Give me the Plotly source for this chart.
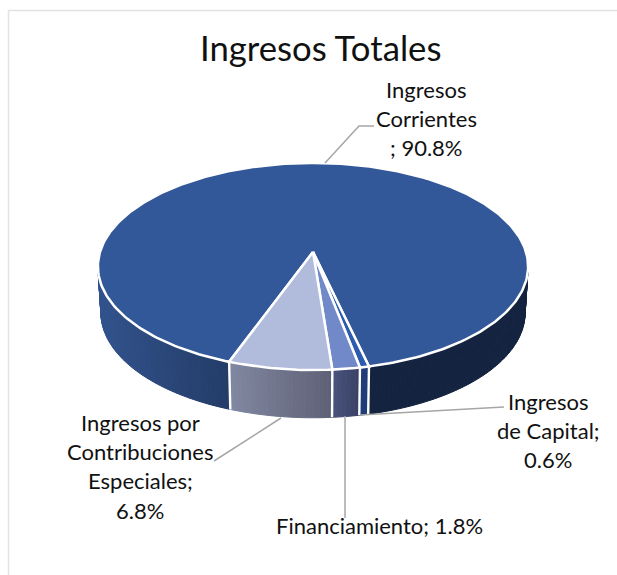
import math
import plotly.graph_objects as go

# ---- data ----
categories = ["Ingresos Corrientes", "Ingresos de Capital", "Financiamiento", "Ingresos por Contribuciones Especiales"]
shares = [90.8, 0.6, 1.8, 6.8]
label_lines = [
    ["Ingresos", "Corrientes", "; {v}%"],
    ["Ingresos", "de Capital;", "{v}%"],
    ["Financiamiento; {v}%"],
    ["Ingresos por", "Contribuciones", "Especiales;", "{v}%"],
]
title = "Ingresos Totales"

# ---- styles ----
top_colors = ["#335899", "#2C5BB0", "#7189C8", "#B1BBDC"]
side_colors = [((49, 82, 140), (20, 35, 63)), ((31, 60, 120), (31, 60, 120)),
               ((72, 82, 124), (56, 64, 98)), ((128, 135, 160), (94, 96, 118))]
side_span = [(100, 370), (360, 370), (333, 362), (231, 332)]
first_angle = 200.0
label_pos = [(426, [89, 118, 147]), (548, [401, 430, 459]), (379, [525]), (140, [422, 451, 480, 510])]
leaders = [[(325, 163), (359, 126), (374, 126)],
           [(360, 415), (504, 407)],
           [(345, 416), (345, 518)],
           [(281, 418), (214, 461)]]
FONT = "Lato"
CX, K = 313.0, 0.14


def proj(deg, a, y0, b):
    t = math.radians(deg)
    u, v = math.sin(t), -math.cos(t)
    w = 1 - K * v
    return CX + a * u / w, y0 + b * v / w


def top(deg):
    return proj(deg, 213, 252, 101.5)


def bot(deg):
    return proj(deg, 210, 298, 103)


fig = go.Figure()

# slice limits, clockwise from first_angle
bounds = [first_angle]
for s in shares:
    bounds.append(bounds[-1] + s / sum(shares) * 360)


def mix(pair, x, span):
    t = min(1, max(0, (x - span[0]) / (span[1] - span[0])))
    return "rgb(%d,%d,%d)" % tuple(round(pair[0][i] + (pair[1][i] - pair[0][i]) * t) for i in range(3))


def add_poly(xs, ys, fill, line="rgba(0,0,0,0)", width=0, close=True):
    fig.add_trace(go.Scatter(x=xs, y=ys, mode="lines", fill="toself" if close else "none",
                             fillcolor=fill, line=dict(color=line, width=width),
                             hoverinfo="skip", showlegend=False))


# side wall: thin strips following each slice, visible front part only
for i in range(len(shares)):
    a0, a1 = bounds[i], bounds[i + 1]
    steps = max(3, int((a1 - a0) / 1.0))
    for j in range(steps):
        p = a0 + (a1 - a0) * j / steps
        q = a0 + (a1 - a0) * (j + 1) / steps
        m = (p + q) / 2
        if math.cos(math.radians(m)) > -K:   # back half: hidden
            continue
        (x1, y1), (x2, y2) = top(p), top(q)
        (x3, y3), (x4, y4) = bot(q), bot(p)
        c = mix(side_colors[i], (x1 + x2) / 2, side_span[i])
        add_poly([x1, x2, x3, x4, x1], [y1, y2, y3, y4, y1], c, c, 1)

# white edges between wall sections
for b in bounds[1:]:
    (x1, y1), (x2, y2) = top(b), bot(b)
    fig.add_trace(go.Scatter(x=[x1, x2], y=[y1, y2], mode="lines", line=dict(color="white", width=2.4),
                             hoverinfo="skip", showlegend=False))

# top faces
for i in range(len(shares)):
    a0, a1 = bounds[i], bounds[i + 1]
    n = max(4, int(a1 - a0))
    pts = [top(a0 + (a1 - a0) * j / n) for j in range(n + 1)]
    apex = (CX, 252.0)
    xs = [apex[0]] + [p[0] for p in pts] + [apex[0]]
    ys = [apex[1]] + [p[1] for p in pts] + [apex[1]]
    add_poly(xs, ys, top_colors[i], "white", 2.5)

# leader lines
for ln in leaders:
    fig.add_trace(go.Scatter(x=[p[0] for p in ln], y=[p[1] for p in ln], mode="lines",
                             line=dict(color="#A6A6A6", width=1.5), hoverinfo="skip", showlegend=False))

# labels
ann = []
for i, lines in enumerate(label_lines):
    x, ys = label_pos[i]
    for txt, y in zip(lines, ys):
        ann.append(dict(x=x, y=y, xref="x", yref="y", showarrow=False, xanchor="center", yanchor="middle",
                        text=txt.format(v=shares[i]), font=dict(family=FONT, size=22, color="#111111")))
ann.append(dict(x=320, y=47, xref="x", yref="y", showarrow=False, xanchor="center", yanchor="middle",
                text=title, font=dict(family=FONT, size=34.7, color="#111111")))

fig.update_layout(
    width=617, height=575, margin=dict(l=0, r=0, t=0, b=0),
    paper_bgcolor="white", plot_bgcolor="white", showlegend=False, annotations=ann,
    xaxis=dict(range=[0, 617], visible=False, fixedrange=True),
    yaxis=dict(range=[575, 0], visible=False, fixedrange=True),
    shapes=[dict(type="line", x0=8.5, x1=8.5, y0=10, y1=575, xref="x", yref="y", layer="below",
                 line=dict(color="#E2E2E2", width=1.5)),
            dict(type="line", x0=8, x1=617, y0=10.5, y1=10.5, xref="x", yref="y", layer="below",
                 line=dict(color="#E2E2E2", width=1.5))],
)
fig.write_html("out.html", config=dict(displayModeBar=False),
               post_script="document.body.style.margin='0';document.body.style.overflow='hidden';")
